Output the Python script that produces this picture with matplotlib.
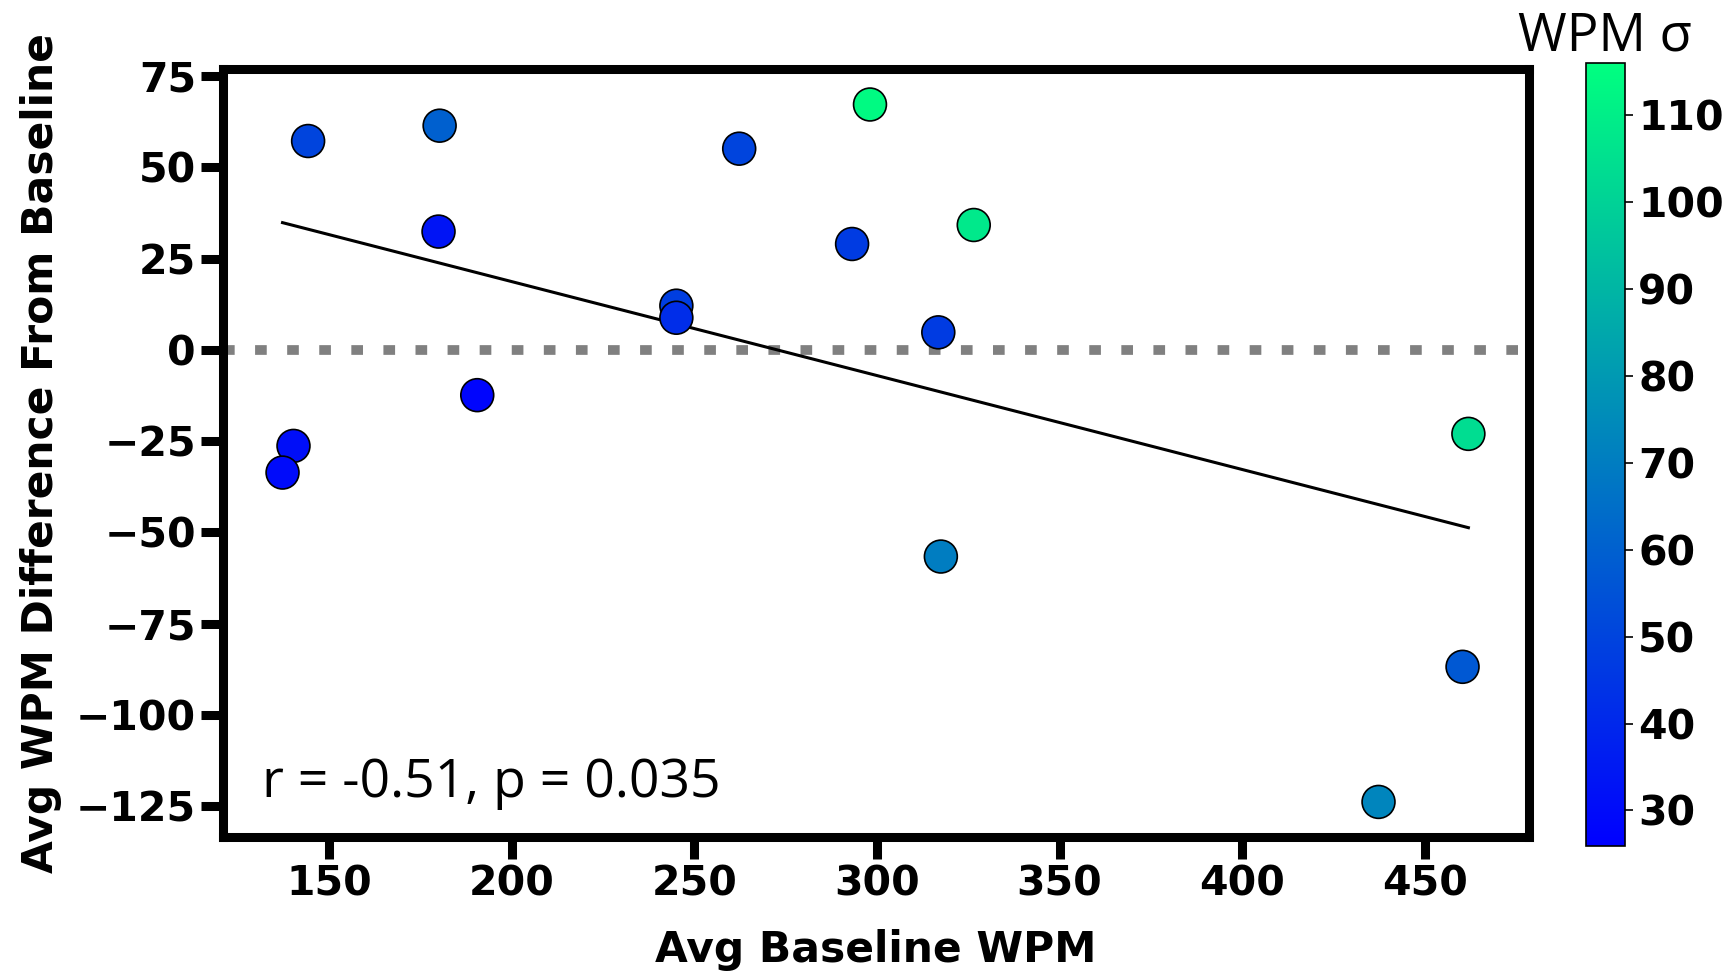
import numpy as np
import matplotlib
matplotlib.use("Agg")
import matplotlib.pyplot as plt

# data
baseline_wpm = [144.3, 180.3, 180.0, 262.3, 298.1, 293.2, 245.1, 245.1, 326.5,
                316.8, 190.6, 140.3, 137.3, 317.5, 461.9, 460.3, 437.3]
wpm_diff = [57.2, 61.4, 32.4, 55.1, 67.2, 29.0, 12.1, 8.8, 34.2,
            4.8, -12.4, -26.3, -33.6, -56.6, -23.0, -86.8, -123.8]
wpm_sigma = [50, 60, 33, 50, 114, 47, 48, 42, 108,
             47, 28, 31, 30, 70, 104, 57, 73]

x_ticks = [150, 200, 250, 300, 350, 400, 450]
y_ticks = [75, 50, 25, 0, -25, -50, -75, -100, -125]
cb_ticks = [30, 40, 50, 60, 70, 80, 90, 100, 110]
stats_text = "r = -0.51, p = 0.035"

FONTSIZE = 29.5
TXT_FONT = ["Open Sans", "DejaVu Sans"]

fig = plt.figure(figsize=(17.34, 9.73), dpi=100)
ax = fig.add_axes([0.1286, 0.1398, 0.7532, 0.7892])
cax = fig.add_axes([0.9146, 0.1305, 0.0225, 0.8045])

x = np.array(baseline_wpm)
y = np.array(wpm_diff)

sc = ax.scatter(x, y, c=wpm_sigma, cmap="winter", vmin=25.9, vmax=116,
                s=560, edgecolors="k", linewidths=1.2, zorder=3)

# zero line
ax.axhline(0, color="gray", lw=7, dashes=(1.2, 2.1), zorder=1)

# linear fit
m, b = np.polyfit(x, y, 1)
xs = np.array([x.min(), x.max()])
ax.plot(xs, m * xs + b, color="k", lw=2.2, zorder=2)

ax.text(0.03, 0.035, stats_text, transform=ax.transAxes,
        fontsize=38.5, family=TXT_FONT, va="bottom", ha="left")

ax.set_xlim(121, 478.5)
ax.set_ylim(-133.4, 76.9)
ax.set_xticks(x_ticks)
ax.set_yticks(y_ticks)

for lbl in ax.get_xticklabels() + ax.get_yticklabels():
    lbl.set_fontweight("bold")
ax.tick_params(axis="both", labelsize=FONTSIZE, width=6.5, length=16)

for sp in ax.spines.values():
    sp.set_linewidth(6.5)

ax.set_xlabel("Avg Baseline WPM", fontsize=30.5, fontweight="bold",
              labelpad=18)
ax.set_ylabel("Avg WPM Difference From Baseline", fontsize=30.5,
              fontweight="bold", labelpad=10)

cb = fig.colorbar(sc, cax=cax)
cb.set_ticks(cb_ticks)
cb.outline.set_linewidth(1.2)
cax.tick_params(labelsize=FONTSIZE, width=1.2, length=6)
for lbl in cax.get_yticklabels():
    lbl.set_fontweight("bold")
cax.set_title("WPM σ", fontsize=38, family=TXT_FONT, pad=8)

fig.savefig("out.png", dpi=100)
